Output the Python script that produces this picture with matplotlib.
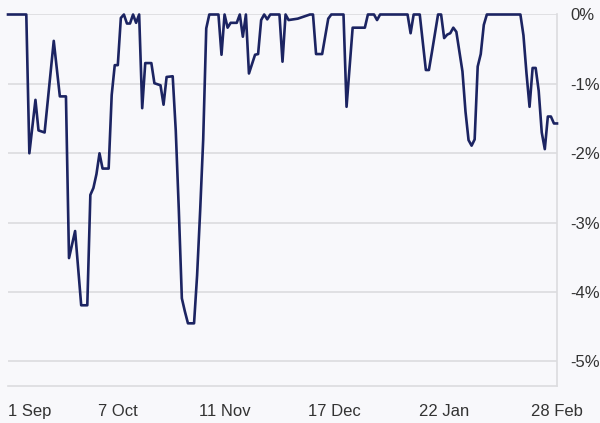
import matplotlib
matplotlib.use("Agg")
import matplotlib.pyplot as plt
import pandas as pd

# days since 1 Sep and drawdown (%)
day = [0, 6, 7, 9, 10, 12, 15, 17, 19, 20, 22, 24, 26, 27, 28, 29, 30, 31, 33,
       34, 35, 36, 37, 38, 39, 40, 41, 42, 43, 44, 45, 47, 48, 50, 51, 52, 54,
       55, 56, 57, 58, 59, 61, 62, 63, 64, 65, 66, 69, 70, 71, 72, 73, 75, 76,
       77, 78, 79, 81, 82, 83, 84, 85, 86, 89, 90, 91, 92, 95, 99, 100, 101,
       103, 105, 106, 110, 111, 113, 117, 118, 120, 121, 122, 131, 132, 133,
       135, 137, 138, 139, 141, 142, 143, 144, 145, 146, 147, 149, 150, 151,
       152, 153, 154, 155, 156, 157, 168, 169, 170, 171, 172, 173, 174, 175,
       176, 177, 178, 179, 180]
drawdown = [0, 0, -2.0, -1.23, -1.67, -1.70, -0.38, -1.18, -1.18, -3.51, -3.12,
            -4.19, -4.19, -2.60, -2.50, -2.30, -2.00, -2.22, -2.22,
            -1.16, -0.73, -0.73, -0.05, 0, -0.13, -0.13, 0, -0.12, 0, -1.35,
            -0.70, -0.70, -0.99, -1.02, -1.30, -0.90, -0.89,
            -1.67, -2.81, -4.09, -4.28, -4.45, -4.45, -3.76, -2.83, -1.80,
            -0.20, 0, 0, -0.58, 0, -0.19, -0.12, -0.12, 0,
            -0.32, 0, -0.85, -0.58, -0.57, -0.08, 0, -0.07, 0, 0, -0.68, 0,
            -0.08, -0.06, 0, 0, -0.57,
            -0.57, -0.06, 0, 0, -1.33, -0.19, -0.19, 0, 0, -0.08, 0, 0, -0.27, 0,
            0, -0.80, -0.80, -0.54, 0, 0, -0.34, -0.29, -0.27, -0.19, -0.25,
            -0.82, -1.40, -1.81,
            -1.89, -1.80, -0.75, -0.57, -0.15, 0, 0, -0.30, -0.85, -1.33, -0.77,
            -0.77, -1.10, -1.70,
            -1.94, -1.47, -1.47, -1.57, -1.57]

tick_days = [0, 36, 71, 107, 143, 180]
tick_labels = ["1 Sep", "7 Oct", "11 Nov", "17 Dec", "22 Jan", "28 Feb"]
y_ticks = [0, -1, -2, -3, -4, -5]

start = pd.Timestamp("2023-09-01")
dates = [start + pd.Timedelta(days=d) for d in day]
tick_dates = [start + pd.Timedelta(days=d) for d in tick_days]

bg = "#f8f8fb"
grid_c = "#dcdcdf"
line_c = "#1c2462"
text_c = "#333333"

plt.rcParams["font.family"] = ["Liberation Sans", "DejaVu Sans"]

fig = plt.figure(figsize=(6, 4.23), dpi=100, facecolor=bg)
ax = fig.add_axes([8 / 600, 37.5 / 423, 549 / 600, 371 / 423])
ax.set_facecolor(bg)

ax.plot(dates, drawdown, color=line_c, linewidth=1.9, clip_on=False, zorder=3,
        solid_joinstyle="round")

ax.set_xlim(start, start + pd.Timedelta(days=180))
ax.set_ylim(-5.346, 0)

ax.set_yticks(y_ticks)
ax.set_yticklabels([f"{v}%" for v in y_ticks])
ax.yaxis.tick_right()
ax.grid(axis="y", color=grid_c, linewidth=1.2)
ax.set_axisbelow(True)

ax.set_xticks(tick_dates)
ax.set_xticklabels(tick_labels)
ax.get_xticklabels()[0].set_ha("left")

ax.tick_params(axis="both", length=0, labelsize=12, labelcolor=text_c)
ax.tick_params(axis="y", pad=9.5)
ax.tick_params(axis="x", pad=13)

for side in ["left", "top"]:
    ax.spines[side].set_visible(False)
for side in ["right", "bottom"]:
    ax.spines[side].set_color(grid_c)
    ax.spines[side].set_linewidth(1.2)

fig.savefig("out.png", dpi=100, facecolor=bg)
